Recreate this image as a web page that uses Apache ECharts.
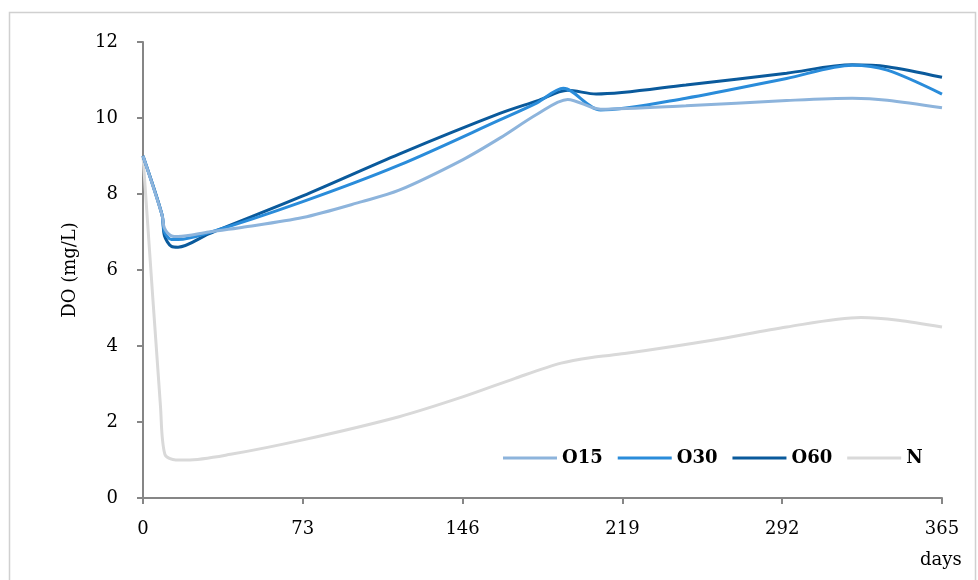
<!DOCTYPE html>
<html>
<head>
<meta charset="utf-8">
<script src="https://cdn.jsdelivr.net/npm/echarts@6/dist/echarts.min.js"></script>
<style>html,body{margin:0;padding:0;background:#fff}#c{width:978px;height:580px}</style>
</head>
<body>
<div id="c"></div>
<script>
var xTicks = [0, 73, 146, 219, 292, 365];
var seriesNames = ['O15', 'O30', 'O60', 'N'];

var o15Days = [0, 8.7, 9.8, 13, 16, 30, 45, 73, 100, 117, 146, 163, 180, 194, 209, 248, 294, 324, 340, 365];
var o15Vals = [9.0, 7.45, 7.1, 6.9, 6.88, 7.0, 7.12, 7.38, 7.8, 8.1, 8.9, 9.47, 10.1, 10.49, 10.23, 10.32, 10.46, 10.52, 10.47, 10.27];

var o30Days = [0, 8.7, 9.8, 13, 16, 30, 73, 117, 163, 180, 192, 209, 248, 294, 324, 340, 365];
var o30Vals = [9.0, 7.45, 7.0, 6.8, 6.8, 6.98, 7.8, 8.76, 9.95, 10.4, 10.78, 10.21, 10.52, 11.04, 11.39, 11.26, 10.63];

var o60Days = [0, 8.7, 9.8, 13, 16, 30, 73, 117, 163, 180, 194, 207, 248, 294, 324, 340, 365];
var o60Vals = [9.0, 7.45, 6.9, 6.62, 6.6, 6.95, 7.95, 9.05, 10.12, 10.45, 10.73, 10.63, 10.87, 11.18, 11.4, 11.35, 11.07];

var nDays = [0, 8, 10, 15, 20, 40, 73, 117, 146, 170, 191, 205, 220, 260, 294, 328, 345, 365];
var nVals = [9.0, 2.4, 1.15, 1.0, 1.0, 1.15, 1.53, 2.14, 2.66, 3.15, 3.55, 3.7, 3.8, 4.15, 4.5, 4.75, 4.68, 4.5];

var colors = ['#8DB4DC', '#2A8CDA', '#0A5A9C', '#D9D9D9'];

function pairs(d, v) { return d.map(function (x, i) { return [x, v[i]]; }); }
var allData = [pairs(o15Days, o15Vals), pairs(o30Days, o30Vals), pairs(o60Days, o60Vals), pairs(nDays, nVals)];

var font = 'DejaVu Serif';
var chart = echarts.init(document.getElementById('c'));
chart.setOption({
  animation: false,
  backgroundColor: '#fff',
  grid: { left: 143, right: 36, top: 42, bottom: 82 },
  legend: {
    data: seriesNames,
    left: 498, top: 444,
    icon: 'rect', itemWidth: 54, itemHeight: 3, itemGap: 15,
    textStyle: { fontFamily: font, fontWeight: 'bold', fontSize: 18, color: '#000' }
  },
  xAxis: {
    type: 'value', min: 0, max: 365, interval: 73,
    axisLine: { lineStyle: { color: '#868686', width: 2 } },
    axisTick: { show: true, length: 6, lineStyle: { color: '#868686', width: 2 } },
    axisLabel: { margin: 22, fontFamily: font, fontSize: 18, color: '#000',
      customValues: xTicks },
    splitLine: { show: false }
  },
  yAxis: {
    type: 'value', min: 0, max: 12, interval: 2,
    name: 'DO (mg/L)', nameLocation: 'middle', nameGap: 64,
    nameTextStyle: { fontFamily: font, fontSize: 18, color: '#000' },
    axisLine: { show: true, lineStyle: { color: '#868686', width: 2 } },
    axisTick: { show: true, length: 6, lineStyle: { color: '#868686', width: 2 } },
    axisLabel: { margin: 25, fontFamily: font, fontSize: 18, color: '#000' },
    splitLine: { show: false }
  },
  graphic: [
    { type: 'rect', shape: { x: 9.5, y: 12.5, width: 966, height: 600 },
      style: { fill: 'none', stroke: '#D0D0D0', lineWidth: 1.5 }, silent: true, z: -1 },
    { type: 'text', left: 920, top: 551,
      style: { text: 'days', fontFamily: font, fontSize: 18, fill: '#000' } }
  ],
  series: seriesNames.map(function (n, i) {
    return {
      name: n, type: 'line', data: allData[i], smooth: 0.3,
      showSymbol: false, symbol: 'none',
      lineStyle: { color: colors[i], width: 3 },
      itemStyle: { color: colors[i] },
      z: 10 - i
    };
  })
});
</script>
</body>
</html>
